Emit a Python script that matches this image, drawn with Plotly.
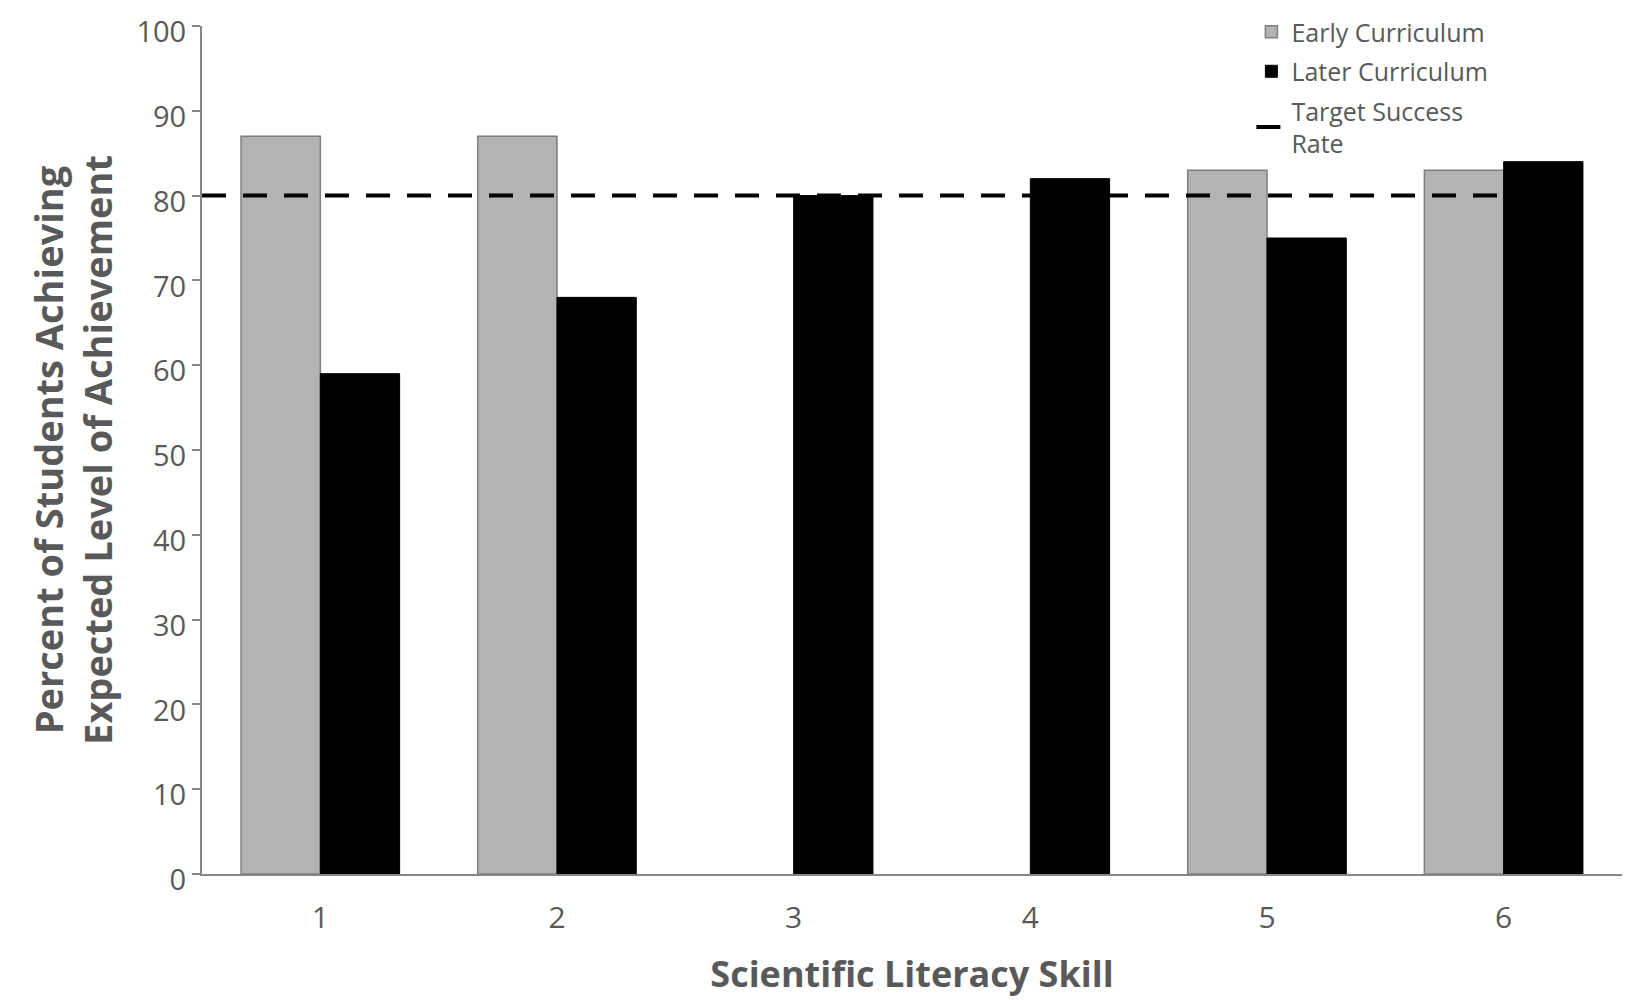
import plotly.graph_objects as go

categories = [1, 2, 3, 4, 5, 6]
early = [87, 87, None, None, 83, 83]
later = [59, 68, 80, 82, 75, 84]
target = 80
y_ticks = [0, 10, 20, 30, 40, 50, 60, 70, 80, 90, 100]

TXT = "#595959"
FONT = "Open Sans"

fig = go.Figure()
fig.add_trace(go.Bar(
    x=categories, y=early, name="Early Curriculum",
    marker=dict(color="#b3b3b3", line=dict(color="#7f7f7f", width=1.5)),
    legendgroup="a",
))
fig.add_trace(go.Bar(
    x=categories, y=later, name="Later Curriculum",
    marker=dict(color="#000000", line=dict(color="#000000", width=1)),
    legendgroup="b",
))
fig.add_trace(go.Scatter(
    x=[categories[0] - 0.5, categories[-1]], y=[target, target],
    mode="lines", name="Target Success<br>Rate",
    line=dict(color="#000000", width=4, dash="24px,17px"),
    legendgroup="c",
))

fig.update_layout(
    width=1633, height=1000,
    paper_bgcolor="white", plot_bgcolor="white",
    barmode="group", bargap=0.33, bargroupgap=0,
    margin=dict(l=194, r=19, t=18, b=134, autoexpand=False),
    font=dict(family=FONT, color=TXT),
    legend=dict(
        x=0.739, xanchor="left", y=1.02, yanchor="top",
        font=dict(size=25, color=TXT, family=FONT),
        traceorder="grouped", tracegroupgap=4,
        bgcolor="rgba(0,0,0,0)",
    ),
    xaxis=dict(
        range=[0.5, 6.5], tickvals=categories, ticktext=[str(c) for c in categories],
        showgrid=False, zeroline=False,
        showline=True, linecolor="#868686", linewidth=2,
        ticks="", tickfont=dict(size=30, color=TXT), ticklabelstandoff=16,
        ticklabeloverflow="allow",
        title=dict(text="<b>Scientific Literacy Skill</b>",
                   font=dict(size=36, color=TXT), standoff=26),
    ),
    yaxis=dict(
        range=[0, 100], tickvals=y_ticks,
        showgrid=False, zeroline=False,
        showline=True, linecolor="#868686", linewidth=2,
        ticks="outside", ticklen=8, tickcolor="#868686", tickwidth=2,
        tickfont=dict(size=29, color=TXT), ticklabeloverflow="allow",
        ticklabelshift=6,
        title=dict(text="<b>Percent of Students Achieving<br>Expected Level of Achievement</b>",
                   font=dict(size=38, color=TXT), standoff=12),
    ),
)

fig.write_html("out.html")
